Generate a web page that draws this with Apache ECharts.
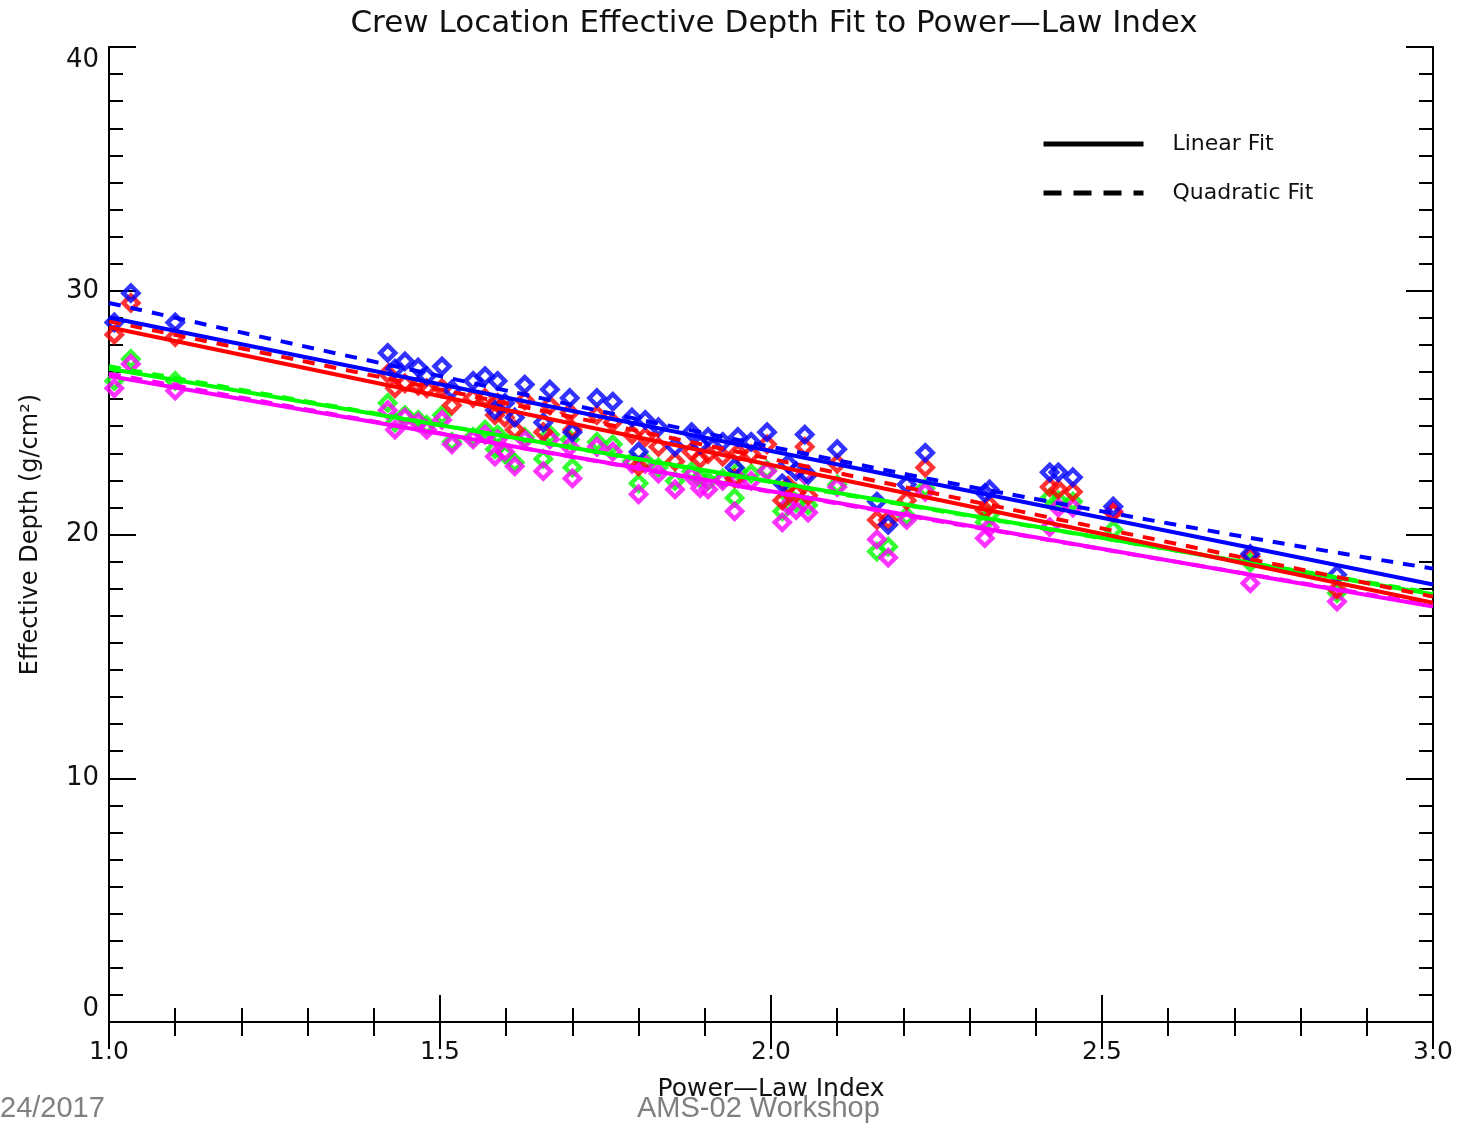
<!DOCTYPE html>
<html>
<head>
<meta charset="utf-8">
<script src="https://cdn.jsdelivr.net/npm/echarts@6/dist/echarts.min.js"></script>
<style>html,body{margin:0;padding:0;background:#fff;}#c{width:1461px;height:1126px;}</style>
</head>
<body>
<div id="c"></div>
<script>
// ---- data ----
const xs = [1.008,1.033,1.10,1.421,1.432,1.447,1.467,1.48,1.503,1.518,1.55,1.568,1.583,1.587,1.598,1.613,1.628,1.656,1.666,1.696,1.70,1.737,1.761,1.79,1.80,1.81,1.83,1.855,1.88,1.893,1.905,1.927,1.945,1.95,1.97,1.994,2.017,2.026,2.038,2.051,2.056,2.10,2.16,2.177,2.205,2.233,2.323,2.33,2.421,2.434,2.456,2.517,2.724,2.855];
const blueY = [28.7,29.9,28.7,27.45,26.8,27.1,26.85,26.5,26.9,25.95,26.3,26.5,25.1,26.3,25.4,24.8,26.15,24.6,25.95,25.6,24.2,25.6,25.45,24.8,23.4,24.7,24.4,23.6,24.2,23.7,24.0,23.8,22.75,24.0,23.8,24.2,22.1,22.9,22.6,24.1,22.45,23.5,21.35,20.4,22.05,23.35,21.7,21.85,22.55,22.55,22.35,21.15,19.2,18.35];
const redY = [28.2,29.5,28.1,26.6,26.0,26.2,26.1,26.0,26.0,25.3,25.6,25.6,24.9,25.4,24.8,24.3,25.5,24.2,25.3,25.0,24.3,24.9,24.6,24.1,22.8,24.0,23.6,23.0,23.4,23.1,23.3,23.2,22.3,23.35,23.3,23.7,21.4,22.0,21.7,23.6,21.6,22.9,20.6,20.6,21.4,22.75,21.0,21.2,21.95,21.85,21.75,20.9,19.1,17.75];
const greenY = [26.3,27.2,26.3,25.4,24.6,24.9,24.7,24.5,24.9,23.8,24.0,24.3,23.5,24.1,23.3,22.95,24.0,23.1,24.1,23.9,22.75,23.8,23.7,23.0,22.1,23.0,22.75,22.2,22.6,22.3,22.2,22.3,21.5,22.6,22.5,22.65,20.95,21.6,21.3,22.45,21.2,22.05,19.3,19.5,20.75,21.9,20.5,20.8,21.5,21.4,21.35,20.2,18.85,17.6];
const magentaY = [26.0,27.0,25.9,25.1,24.3,24.8,24.6,24.3,24.7,23.7,23.9,24.1,23.2,23.9,23.4,22.8,23.9,22.6,23.9,23.6,22.3,23.6,23.4,22.9,21.65,22.9,22.5,21.85,22.4,21.9,21.85,22.2,20.95,22.3,22.2,22.6,20.5,21.2,21.0,22.45,20.9,21.95,19.8,19.05,20.6,21.75,19.85,20.3,20.3,21.1,21.1,20.95,18.0,17.25];

const linX = [1.0, 3.0];
const blueLin = [28.9, 17.95];
const redLin = [28.5, 17.2];
const greenLin = [26.8, 17.55];
const magentaLin = [26.5, 17.05];

const quadX = [1.0, 1.5, 2.0, 2.5, 3.0];
const blueQuad = [29.5, 26.5, 23.6, 20.95, 18.6];
const redQuad = [28.75, 25.95, 23.1, 20.25, 17.45];
const greenQuad = [26.9, 24.5, 22.15, 19.85, 17.6];
const magentaQuad = [26.6, 24.15, 21.75, 19.4, 17.1];

const xTicks = ['1.0','1.5','2.0','2.5','3.0'];
const yTicks = ['0','10','20','30','40'];

// ---- build chart ----
const pair = (xa, ya) => xa.map((x, i) => [x, ya[i]]);
const colors = {blue:'#0000ff', red:'#ff0000', green:'#00ff00', magenta:'#ff00ff'};
const groups = [
  ['green', greenY, greenLin, greenQuad],
  ['magenta', magentaY, magentaLin, magentaQuad],
  ['red', redY, redLin, redQuad],
  ['blue', blueY, blueLin, blueQuad]
];
const series = [];
groups.forEach(([name, ys, lin, quad]) => {
  const c = colors[name];
  series.push({
    type:'scatter', name: name + ' points', data: pair(xs, ys),
    symbol:'diamond', symbolSize:15, silent:true,
    itemStyle:{color:'rgba(255,255,255,0)', borderColor:c, borderWidth:4.5}
  });
});
groups.forEach(([name, ys, lin, quad]) => {
  const c = colors[name];
  series.push({
    type:'line', name: name + ' linear', data: pair(linX, lin), showSymbol:false, symbol:'none',
    lineStyle:{color:c, width:4}, silent:true
  });
  series.push({
    type:'line', name: name + ' quadratic', data: pair(quadX, quad), showSymbol:false, symbol:'none', smooth:true,
    lineStyle:{color:c, width:4, type:[12,10]}, silent:true
  });
});
series.push({type:'line', name:'Linear Fit', data:[], color:'#000', symbol:'none', lineStyle:{color:'#000', width:5}});
series.push({type:'line', name:'Quadratic Fit', data:[], color:'#000', symbol:'none', lineStyle:{color:'#000', width:5, type:[18,12]}});

const FONT = 'DejaVu Sans';
const axisCommon = {
  axisLine:{show:true, lineStyle:{color:'#000', width:2}},
  axisTick:{show:true, inside:true, length:27, lineStyle:{color:'#000', width:2}},
  splitLine:{show:false}, minorSplitLine:{show:false}
};

const chart = echarts.init(document.getElementById('c'), null, {renderer:'canvas'});
chart.setOption({
  animation:false,
  backgroundColor:'#fff',
  title:{
    text:'Crew Location Effective Depth Fit to Power—Law Index',
    left:769, top:3, textAlign:'center',
    textStyle:{fontFamily:FONT, fontSize:31, fontWeight:'normal', color:'#111'}
  },
  legend:{
    data:[
      {name:'Linear Fit', lineStyle:{width:5, type:'solid', color:'#000'}},
      {name:'Quadratic Fit', lineStyle:{width:5, type:[18,12], color:'#000'}}
    ],
    orient:'vertical', left:1036, top:128,
    itemWidth:100, itemHeight:16, itemGap:27, selectedMode:false,
    itemStyle:{opacity:0, borderWidth:0},
    textStyle:{fontFamily:FONT, fontSize:22, color:'#111', padding:[0,0,0,24]}
  },
  grid:{left:109, top:47, right:28, bottom:104, containLabel:false},
  xAxis:[
    Object.assign({type:'value', min:1, max:3, interval:0.5, position:'bottom',
      name:'Power—Law Index', nameLocation:'middle', nameGap:55,
      nameTextStyle:{fontFamily:FONT, fontSize:25, color:'#111'},
      axisLabel:{show:true, margin:18, fontFamily:FONT, fontSize:25, color:'#111',
        formatter:(v)=>xTicks[Math.round((v-1)/0.5)]}}, axisCommon,
      {minorTick:{show:true, splitNumber:5, length:14, lineStyle:{color:'#000', width:2}}}),
    Object.assign({type:'value', min:1, max:3, interval:0.5, position:'top',
      axisLabel:{show:false}}, axisCommon,
      {minorTick:{show:true, splitNumber:5, length:14, lineStyle:{color:'#000', width:2}}})
  ],
  yAxis:[
    Object.assign({type:'value', min:0, max:40, interval:10, position:'left',
      name:'Effective Depth (g/cm²)', nameLocation:'middle', nameGap:66, nameRotate:90,
      nameTextStyle:{fontFamily:FONT, fontSize:24, color:'#111'},
      axisLabel:{show:true, margin:10, fontFamily:FONT, fontSize:26, color:'#111',
        verticalAlignMinLabel:'bottom', verticalAlignMaxLabel:'top',
        formatter:(v)=>yTicks[Math.round(v/10)]}}, axisCommon,
      {minorTick:{show:true, splitNumber:9, length:14, lineStyle:{color:'#000', width:2}}}),
    Object.assign({type:'value', min:0, max:40, interval:10, position:'right',
      axisLabel:{show:false}}, axisCommon,
      {minorTick:{show:true, splitNumber:9, length:14, lineStyle:{color:'#000', width:2}}})
  ],
  graphic:[
    {type:'text', left:0, top:1094, style:{text:'24/2017', fontFamily:'Liberation Sans', fontSize:29, fill:'#808080'}},
    {type:'text', left:637, top:1094, style:{text:'AMS-02 Workshop', fontFamily:'Liberation Sans', fontSize:29, fill:'#808080'}}
  ],
  series: series
});
</script>
</body>
</html>
